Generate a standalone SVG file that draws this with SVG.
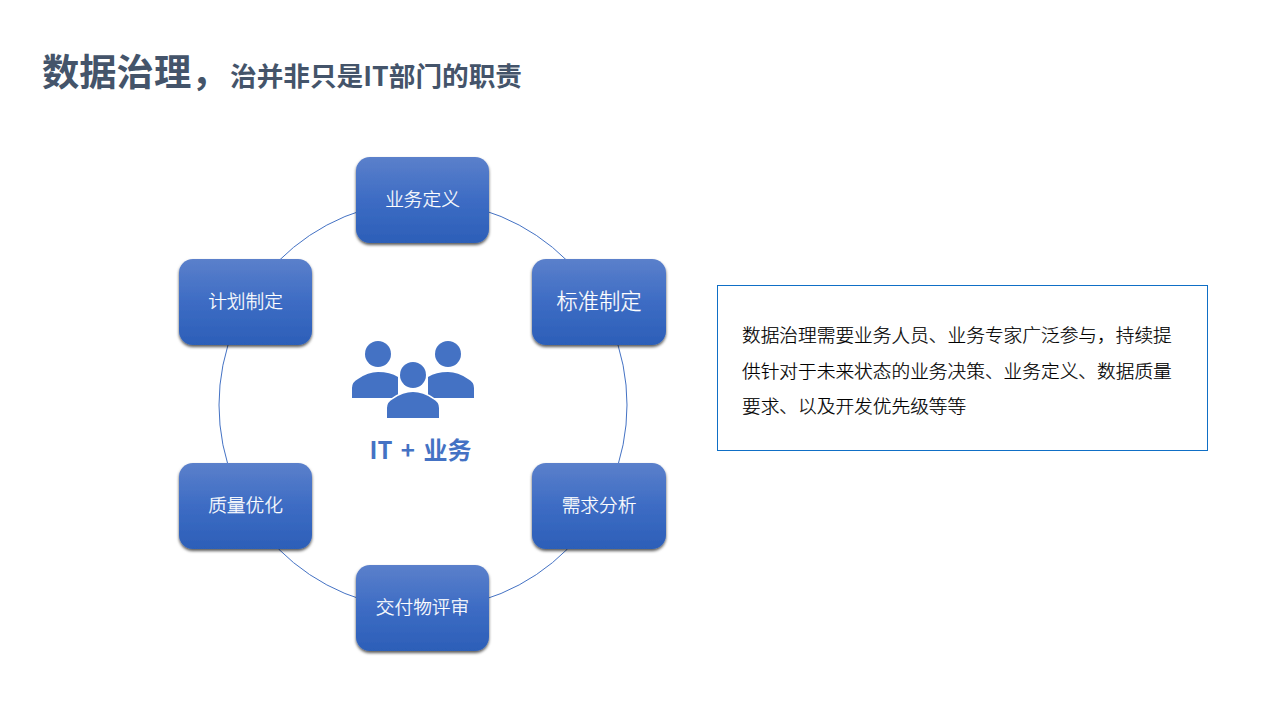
<svg xmlns="http://www.w3.org/2000/svg" width="1280" height="720" viewBox="0 0 1280 720">
<defs>
<linearGradient id="g" x1="0" y1="0" x2="0" y2="1"><stop offset="0" stop-color="#5b80cb"/><stop offset="0.5" stop-color="#3d6cc4"/><stop offset="1" stop-color="#2c5fb8"/></linearGradient>
<filter id="s" x="-15%" y="-15%" width="130%" height="135%"><feDropShadow dx="0" dy="2" stdDeviation="1.800" flood-color="#000" flood-opacity="0.65"/></filter>
<style>
text{font-family:"Noto Sans CJK SC","Liberation Sans",sans-serif}
.n{fill:url(#g);filter:url(#s)}
.l{fill:#fff;stroke:#fff;stroke-width:0.25px;font-size:18.7px;text-anchor:middle;font-weight:300}
.b{fill:#000;stroke:#000;stroke-width:0.2px;font-size:18.7px;font-weight:300}
.i{fill:#4472c4}
</style>
</defs>
<rect width="1280" height="720" fill="#fff"/>
<g id="title" fill="#44546a" font-weight="700">
<text x="42" y="86" font-size="37.3px">数据治理，</text>
<text x="230" y="86" font-size="26.67px">治并非只是IT部门的职责</text>
</g>
<g id="connectors"><circle cx="423" cy="405" r="204" fill="none" stroke="#4472c4" stroke-width="1"/></g>
<g id="n1"><rect class="n" x="356" y="157" width="133" height="86" rx="14"/><text class="l" x="422.500" y="205.500">业务定义</text></g>
<g id="n2"><rect class="n" x="532" y="259" width="134" height="86" rx="14"/><text class="l" x="599" y="308.500" style="font-size:21.3px">标准制定</text></g>
<g id="n3"><rect class="n" x="532" y="463" width="134" height="86" rx="14"/><text class="l" x="599" y="512">需求分析</text></g>
<g id="n4"><rect class="n" x="356" y="565" width="133" height="86" rx="14"/><text class="l" x="422.500" y="614">交付物评审</text></g>
<g id="n5"><rect class="n" x="179" y="463" width="133" height="86" rx="14"/><text class="l" x="245.500" y="512">质量优化</text></g>
<g id="n6"><rect class="n" x="179" y="259" width="133" height="86" rx="14"/><text class="l" x="245.500" y="308">计划制定</text></g>
<g id="center">
<circle class="i" cx="378" cy="354" r="13"/><circle class="i" cx="448" cy="354" r="13"/>
<path class="i" d="M352 398V388Q352 382 358 379Q368 372 378 372Q390 372 398 377L398 398Z"/>
<path class="i" d="M474 398V388Q474 382 468 379Q458 372 448 372Q436 372 428 377L428 398Z"/>
<circle class="i" cx="413" cy="375" r="13" stroke="#fff" stroke-width="3" paint-order="stroke"/>
<path class="i" stroke="#fff" stroke-width="3" paint-order="stroke" d="M387 418V408Q387 402 393 399Q403 392 413 392Q423 392 433 399Q439 402 439 408V418Z"/>
<text x="420.500" y="459" font-size="24px" font-weight="700" fill="#4472c4" text-anchor="middle" word-spacing="3">IT + 业务</text>
</g>
<g id="note">
<rect x="717.500" y="285.500" width="490" height="165" fill="#fff" stroke="#0f6fc6" stroke-width="1"/>
<text class="b" x="742" y="342">数据治理需要业务人员、业务专家广泛参与，持续提</text>
<text class="b" x="742" y="378">供针对于未来状态的业务决策、业务定义、数据质量</text>
<text class="b" x="742" y="413">要求、以及开发优先级等等</text>
</g>
</svg>
